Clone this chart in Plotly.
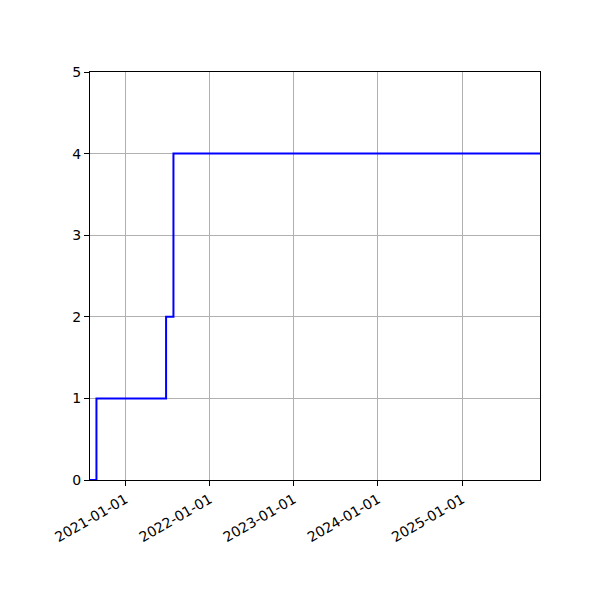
import plotly.graph_objects as go

# step data: cumulative count over time
dates = ["2020-07-31", "2020-08-28", "2021-06-26", "2021-07-28", "2025-12-04"]
counts = [0, 1, 2, 4, 4]
x_range = ["2020-07-31", "2025-12-04"]
tick_dates = ["2021-01-01", "2022-01-01", "2023-01-01", "2024-01-01", "2025-01-01"]

fig = go.Figure()
fig.add_trace(go.Scatter(
    x=dates, y=counts,
    mode="lines",
    line=dict(color="#0000ff", width=2, shape="hv"),
    showlegend=False,
))

axis_style = dict(
    showline=True, linecolor="black", linewidth=1, mirror=True,
    ticks="outside", ticklen=5, tickcolor="black", tickwidth=1,
    showgrid=True, gridcolor="#b0b0b0", gridwidth=1,
    zeroline=False,
    tickfont=dict(family="DejaVu Sans", size=14, color="black"),
)

fig.update_xaxes(
    type="date", range=x_range,
    tickvals=tick_dates, ticktext=tick_dates,
    tickangle=-30,
    **axis_style,
)
fig.update_yaxes(range=[0, 5], dtick=1, **axis_style)

# page body adds ~8px offset, so margins shifted to compensate
fig.update_layout(
    width=600, height=600,
    margin=dict(l=82, r=68, t=64, b=128),
    plot_bgcolor="white", paper_bgcolor="white",
)

fig.write_html("out.html")
